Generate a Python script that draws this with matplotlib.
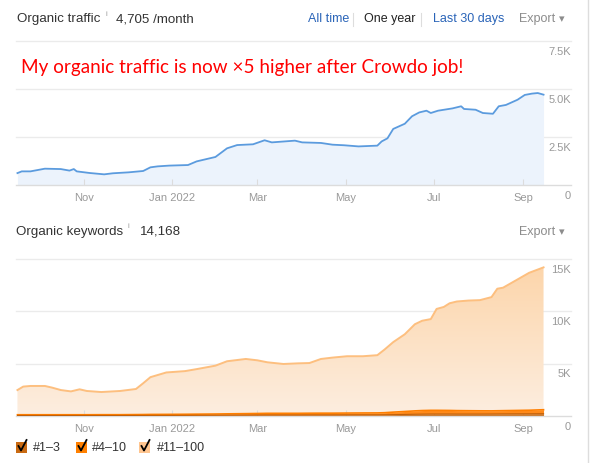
import numpy as np
import matplotlib
matplotlib.use("Agg")
import matplotlib.pyplot as plt
import matplotlib.dates as mdates
from matplotlib.lines import Line2D
from matplotlib.patches import Rectangle
from matplotlib.colors import LinearSegmentedColormap

W, H = 591, 463

# organic traffic (per month)
traffic_dates = ["2021-09-16", "2021-09-19", "2021-09-25", "2021-10-05", "2021-10-16", "2021-10-22",
                 "2021-10-25", "2021-10-27", "2021-11-05", "2021-11-15", "2021-11-21", "2021-12-02",
                 "2021-12-12", "2021-12-17", "2021-12-22", "2021-12-30", "2022-01-12", "2022-01-18",
                 "2022-01-31", "2022-02-08", "2022-02-15", "2022-02-26", "2022-03-06", "2022-03-11",
                 "2022-03-27", "2022-04-01", "2022-04-14", "2022-04-22", "2022-04-30", "2022-05-10",
                 "2022-05-23", "2022-05-26", "2022-05-30", "2022-06-03", "2022-06-11", "2022-06-16",
                 "2022-06-21", "2022-06-26", "2022-06-29", "2022-07-04", "2022-07-14", "2022-07-20",
                 "2022-07-22", "2022-07-30", "2022-08-04", "2022-08-11", "2022-08-15", "2022-08-20",
                 "2022-08-28", "2022-09-02", "2022-09-07", "2022-09-11", "2022-09-15"]
traffic = [620, 710, 710, 850, 830, 750, 830, 710, 625, 555, 610, 660, 730, 920, 970, 1010, 1040, 1230,
           1460, 1910, 2080, 2120, 2330, 2220, 2310, 2220, 2190, 2100, 2070, 2010, 2050, 2270, 2430,
           2920, 3190, 3580, 3780, 3870, 3750, 3870, 3990, 4100, 3960, 3920, 3750, 3710, 4100, 4170,
           4440, 4690, 4760, 4790, 4705]

# organic keywords by position
kw_dates = ["2021-09-16", "2021-09-20", "2021-09-25", "2021-10-05", "2021-10-10", "2021-10-16",
            "2021-10-23", "2021-10-29", "2021-11-03", "2021-11-13", "2021-11-26", "2021-12-07",
            "2021-12-12", "2021-12-17", "2021-12-28", "2022-01-10", "2022-01-18", "2022-01-31",
            "2022-02-08", "2022-02-21", "2022-03-01", "2022-03-08", "2022-03-19", "2022-03-29",
            "2022-04-06", "2022-04-14", "2022-04-22", "2022-05-02", "2022-05-13", "2022-05-23",
            "2022-05-28", "2022-06-03", "2022-06-11", "2022-06-18", "2022-06-23", "2022-06-29",
            "2022-07-03", "2022-07-08", "2022-07-12", "2022-07-17", "2022-07-25", "2022-08-02",
            "2022-08-10", "2022-08-14", "2022-08-18", "2022-08-25", "2022-09-05", "2022-09-10",
            "2022-09-15"]
pos_1_3 = [50, 50, 50, 50, 50, 50, 50, 50, 50, 50, 50, 55, 55, 60, 60, 65, 70, 75, 80, 85, 90, 95, 95,
           95, 100, 100, 100, 105, 110, 110, 115, 130, 150, 170, 180, 190, 190, 190, 190, 185, 185,
           185, 190, 195, 200, 205, 210, 215, 220]
pos_4_10 = [70, 70, 70, 70, 70, 70, 70, 70, 70, 75, 75, 80, 85, 90, 95, 100, 105, 115, 125, 140, 150,
            160, 160, 160, 165, 170, 170, 175, 180, 185, 200, 240, 280, 320, 340, 350, 350, 345, 340,
            330, 320, 310, 300, 305, 310, 320, 340, 360, 380]
pos_11_100 = [2360, 2690, 2750, 2750, 2590, 2360, 2230, 2430, 2270, 2165, 2265, 2445, 2990, 3560,
              4005, 4125, 4305, 4620, 5025, 5225, 5080, 4875, 4715, 4775, 4795, 5180, 5310, 5430,
              5420, 5515, 6035, 6690, 7380, 8280, 8580, 8720, 9690, 9885, 10240, 10425, 10525,
              10575, 10870, 11660, 11750, 12285, 13130, 13365, 13600]

tick_dates = ["2021-11-01", "2022-01-01", "2022-03-01", "2022-05-01", "2022-07-01", "2022-09-01"]
tick_labels = ["Nov", "Jan 2022", "Mar", "May", "Jul", "Sep"]
traffic_yticks = [0, 2500, 5000, 7500]
traffic_ylabels = ["0", "2.5K", "5.0K", "7.5K"]
kw_yticks = [0, 5000, 10000, 15000]
kw_ylabels = ["0", "5K", "10K", "15K"]

FONT = "Liberation Sans"
plt.rcParams["font.family"] = [FONT, "DejaVu Sans"]


def px(x, y):
    return x / W, 1 - y / H


def style_axes(ax, yticks, ylabels, ymax):
    ax.set_xlim(np.datetime64("2021-09-15"), np.datetime64("2022-10-04"))
    ax.set_ylim(0, ymax)
    for s in ["top", "right", "left"]:
        ax.spines[s].set_visible(False)
    ax.spines["bottom"].set_color("#dcdcdc")
    ax.spines["bottom"].set_linewidth(1)
    ax.set_yticks([])
    for v in yticks[1:]:
        ax.axhline(v, color="#ebebeb", lw=1, zorder=0, clip_on=False)
    trans = matplotlib.transforms.blended_transform_factory(ax.transAxes, ax.transData)
    off = matplotlib.transforms.offset_copy(trans, fig=ax.figure, y=-4, units="points")
    for v, lab in zip(yticks, ylabels):
        ax.text(1.0, v, lab, transform=off, ha="right", va="top", fontsize=8, color="#999999")
    ax.set_xticks(np.array(tick_dates, dtype="datetime64[D]"))
    ax.set_xticklabels(tick_labels)
    ax.tick_params(axis="x", direction="in", length=4, color="#dcdcdc", labelsize=8,
                   labelcolor="#999999", pad=6)
    ax.patch.set_visible(False)


fig = plt.figure(figsize=(W / 100, H / 100), dpi=100)

# ---------- traffic chart
ax1 = fig.add_axes([16 / W, 1 - 185 / H, 555 / W, 144 / H])
td = np.array(traffic_dates, dtype="datetime64[D]")
ax1.fill_between(td, 0, traffic, color="#ecf3fc", lw=0, zorder=1)
ax1.plot(td, traffic, color="#5b9bde", lw=1.3, zorder=2)
style_axes(ax1, traffic_yticks, traffic_ylabels, 7500)

# ---------- keywords chart
ax2 = fig.add_axes([16 / W, 1 - 416 / H, 555 / W, 157 / H])
kd = np.array(kw_dates, dtype="datetime64[D]")
b1 = np.array(pos_1_3)
b2 = b1 + np.array(pos_4_10)
b3 = b2 + np.array(pos_11_100)
poly = ax2.fill_between(kd, b2, b3, color="none", lw=0)
grad = np.linspace(1, 0, 256).reshape(-1, 1)
cmap = LinearSegmentedColormap.from_list("kw", ["#fdeee0", "#fcd4a8"])
xn = mdates.date2num(kd)
im = ax2.imshow(grad, extent=[xn[0], xn[-1], 0, 15000], aspect="auto", cmap=cmap,
                origin="upper", zorder=1, interpolation="bilinear")
im.set_clip_path(poly.get_paths()[0], ax2.transData)
ax2.plot(kd, b3, color="#fdbf7f", lw=1.4, zorder=3)
ax2.fill_between(kd, b1, b2, color="#ff8a1a", lw=0, zorder=2)
ax2.plot(kd, b2, color="#ff7f00", lw=1.2, zorder=3)
ax2.fill_between(kd, 0, b1, color="#c96a12", lw=0, zorder=2)
ax2.plot(kd, b1, color="#c0600a", lw=0.8, zorder=3)
style_axes(ax2, kw_yticks, kw_ylabels, 15000)

# ---------- headers
fig.text(*px(17, 19), "Organic traffic", fontsize=9.6, color="#333333", va="center")
fig.text(*px(106, 14), "i", fontsize=5.5, color="#999999", va="center")
fig.text(*px(116, 19), "4,705 /month", fontsize=9.6, color="#333333", va="center")
fig.text(*px(308, 19), "All time", fontsize=9, color="#2a64b8", va="center")
fig.add_artist(Line2D([353 / W, 353 / W], [1 - 13 / H, 1 - 26 / H], color="#dddddd", lw=0.8))
fig.text(*px(364, 19), "One year", fontsize=9, color="#222222", va="center")
fig.add_artist(Line2D([421 / W, 421 / W], [1 - 13 / H, 1 - 26 / H], color="#dddddd", lw=0.8))
fig.text(*px(433, 19), "Last 30 days", fontsize=9, color="#2a64b8", va="center")
fig.text(*px(519, 19), "Export", fontsize=9, color="#8c8c8c", va="center")
fig.text(*px(562, 19), "\u25BE", fontsize=8, color="#8c8c8c", va="center", ha="center")

fig.text(*px(16, 232), "Organic keywords", fontsize=9.6, color="#333333", va="center")
fig.text(*px(128, 227), "i", fontsize=5.5, color="#999999", va="center")
fig.text(*px(140, 232), "14,168", fontsize=9.6, color="#333333", va="center")
fig.text(*px(519, 232), "Export", fontsize=9, color="#8c8c8c", va="center")
fig.text(*px(562, 232), "\u25BE", fontsize=8, color="#8c8c8c", va="center", ha="center")

fig.text(*px(21, 67), "My organic traffic is now \u00d75 higher after Crowdo job!",
         fontsize=13.6, color="#ff0000", va="center", family=["Lato", "DejaVu Sans"])

# ---------- legend
legend_items = [("#1\u20133", "#c96a12", 16, 33), ("#4\u201310", "#ff8000", 76, 92),
                ("#11\u2013100", "#ffc58f", 139, 157)]
for lab, col, bx, tx in legend_items:
    x0, y0 = px(bx, 453)
    fig.add_artist(Rectangle((x0, y0), 11 / W, 11 / H, facecolor=col, edgecolor="none",
                             transform=fig.transFigure))
    cx = np.array([bx + 2.5, bx + 5, bx + 10.5]) / W
    cy = 1 - np.array([446, 450.5, 440]) / H
    fig.add_artist(Line2D(cx, cy, color="black", lw=1.3))
    fig.text(*px(tx, 448), lab, fontsize=9, color="#333333", va="center")

fig.add_artist(Line2D([588 / W, 588 / W], [0, 1], color="#dddddd", lw=1))

fig.savefig("out.png", dpi=100)
